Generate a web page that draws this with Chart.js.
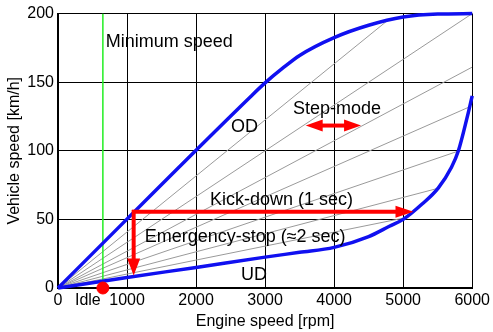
<!DOCTYPE html>
<html>
<head>
<meta charset="utf-8">
<script src="https://cdn.jsdelivr.net/npm/chart.js@4"></script>
<style>
  html, body { margin: 0; padding: 0; background: #fff; }
  #wrap { width: 493px; height: 332px; }
</style>
</head>
<body>
<div id="wrap"><canvas id="shiftChart"></canvas></div>
<script>
// Engine speed (rpm) / vehicle speed (km/h) map of a CVT

const xTicks = [0, 1000, 2000, 3000, 4000, 5000, 6000];
const yTicks = [0, 50, 100, 150, 200];

// Overdrive limit (top ratio), then rolls over to top speed
const odRpm   = [0, 2800, 3000, 3250, 3500, 4000, 4500, 5000, 5500, 6000];
const odSpeed = [0, 140, 149.5, 160, 169.5, 182.5, 191.5, 197.5, 199.7, 200];

// Underdrive limit (lowest ratio), bends up near max rpm
const udRpm   = [0, 1000, 2000, 3000, 3500, 4000, 4500, 4800, 5000, 5270, 5510, 5700, 5800, 5925, 6000];
const udSpeed = [0, 7.7, 15, 22.5, 26, 29.6, 37.5, 45, 50, 61, 73, 88, 100, 124, 140];

// Fixed step-mode ratios, each ends where it meets the envelope
const stepEndRpm   = [4750, 6000, 6000, 5960, 5810, 5530, 5010];
const stepEndSpeed = [194, 200, 161, 132, 100, 73, 51];

// Idle / minimum speed
const idleRpm = 650;
const minSpeedTop = 200;
const minSpeedBottom = 5;

// Arrows, in rpm / km/h
const kickDown = [[1086, 55.5], [5150, 55.5]];
const emergencyStop = [[1096, 55.5], [1096, 9.2]];
const stepMode = [[3588, 118.4], [4390, 118.4]];

const notes = [
    { text: 'Minimum speed', x: 692, y: 179.6 },
    { text: 'OD', x: 2505, y: 117 },
    { text: 'Step-mode', x: 3404, y: 130.7 },
    { text: 'Kick-down (1 sec)', x: 2202, y: 64.3 },
    { text: 'Emergency-stop (\u22482 sec)', x: 1255, y: 37.5 },
    { text: 'UD', x: 2650, y: 9.4 }
];

const FONT = "'Liberation Sans', Arial, sans-serif";
const BLUE = '#1010f0';
const RED = '#ff0000';

const toPoints = (xs, ys) => xs.map((x, i) => ({ x: x, y: ys[i] }));

const rayDatasets = stepEndRpm.map((rpm, i) => ({
    data: [{ x: 0, y: 0 }, { x: rpm, y: stepEndSpeed[i] }],
    borderColor: '#9a9a9a',
    borderWidth: 1,
    showLine: true,
    pointRadius: 0,
    order: 5
}));

function drawArrow(ctx, x1, y1, x2, y2, headLen, headHalf, width, both) {
    const ang = Math.atan2(y2 - y1, x2 - x1);
    const cos = Math.cos(ang), sin = Math.sin(ang);
    const head = (tx, ty, dir) => {
        const bx = tx - dir * headLen * cos, by = ty - dir * headLen * sin;
        ctx.beginPath();
        ctx.moveTo(tx, ty);
        ctx.lineTo(bx - headHalf * sin, by + headHalf * cos);
        ctx.lineTo(bx + headHalf * sin, by - headHalf * cos);
        ctx.closePath();
        ctx.fill();
    };
    const sx = both ? x1 + headLen * cos * 0.8 : x1;
    const sy = both ? y1 + headLen * sin * 0.8 : y1;
    ctx.beginPath();
    ctx.lineWidth = width;
    ctx.moveTo(sx, sy);
    ctx.lineTo(x2 - headLen * cos * 0.8, y2 - headLen * sin * 0.8);
    ctx.stroke();
    head(x2, y2, 1);
    if (both) head(x1, y1, -1);
}

const annotations = {
    id: 'annotations',
    afterDatasetsDraw(chart) {
        const { ctx, scales: { x, y } } = chart;
        const px = p => [x.getPixelForValue(p[0]), y.getPixelForValue(p[1])];
        ctx.save();
        ctx.strokeStyle = RED;
        ctx.fillStyle = RED;
        ctx.lineCap = 'butt';

        let a = px(kickDown[0]), b = px(kickDown[1]);
        drawArrow(ctx, a[0] - 1, a[1], b[0], b[1], 18, 6, 4, false);
        a = px(emergencyStop[0]); b = px(emergencyStop[1]);
        drawArrow(ctx, a[0], a[1] - 2, b[0], b[1], 17, 6.5, 4, false);
        a = px(stepMode[0]); b = px(stepMode[1]);
        drawArrow(ctx, a[0], a[1], b[0], b[1], 17, 6, 4, true);

        ctx.fillStyle = '#000';
        ctx.textBaseline = 'middle';
        ctx.textAlign = 'left';
        ctx.font = '18px ' + FONT;
        notes.forEach(n => {
            ctx.fillText(n.text, x.getPixelForValue(n.x), y.getPixelForValue(n.y));
        });

        // idle marker label sits in the tick row
        ctx.font = '16px ' + FONT;
        ctx.textAlign = 'center';
        ctx.fillText('Idle', x.getPixelForValue(idleRpm) - 15, y.bottom + 13);
        ctx.restore();
    }
};

new Chart(document.getElementById('shiftChart'), {
    type: 'scatter',
    data: {
        datasets: [
            {
                data: toPoints(odRpm, odSpeed),
                borderColor: BLUE,
                borderWidth: 3.5,
                showLine: true,
                pointRadius: 0,
                cubicInterpolationMode: 'monotone',
                clip: 4,
                order: 1
            },
            {
                data: toPoints(udRpm, udSpeed),
                borderColor: BLUE,
                borderWidth: 3.5,
                showLine: true,
                pointRadius: 0,
                cubicInterpolationMode: 'monotone',
                clip: 4,
                order: 1
            },
            {
                data: [{ x: idleRpm, y: minSpeedBottom }, { x: idleRpm, y: minSpeedTop }],
                borderColor: '#22ee22',
                borderWidth: 1.5,
                showLine: true,
                pointRadius: 0,
                order: 3
            },
            {
                data: [{ x: idleRpm, y: 0 }],
                backgroundColor: RED,
                borderColor: RED,
                pointRadius: 6,
                clip: false,
                order: 0
            },
            ...rayDatasets
        ]
    },
    options: {
        responsive: true,
        maintainAspectRatio: false,
        animation: false,
        events: [],
        layout: { padding: { top: 11, right: 19, left: 0, bottom: 0 } },
        plugins: {
            legend: { display: false },
            tooltip: { enabled: false }
        },
        scales: {
            x: {
                type: 'linear',
                min: 0,
                max: 6000,
                afterBuildTicks: s => { s.ticks = xTicks.map(v => ({ value: v })); },
                afterFit: s => { s.height = 44; },
                grid: { color: '#000', lineWidth: 1, drawTicks: false },
                border: { color: '#000', width: 2 },
                ticks: {
                    color: '#000',
                    padding: 3,
                    maxRotation: 0,
                    font: { family: FONT, size: 16 },
                    callback: v => String(v)
                },
                title: {
                    display: true,
                    text: 'Engine speed [rpm]',
                    color: '#000',
                    padding: { top: 0, bottom: 1 },
                    font: { family: FONT, size: 16, lineHeight: 1.2 }
                }
            },
            y: {
                type: 'linear',
                min: 0,
                max: 200,
                afterBuildTicks: s => { s.ticks = yTicks.map(v => ({ value: v })); },
                afterFit: s => { s.width = 58; },
                grid: { color: '#000', lineWidth: 1, drawTicks: false },
                border: { color: '#000', width: 2 },
                ticks: {
                    color: '#000',
                    padding: 4,
                    font: { family: FONT, size: 16 },
                    callback: v => String(v)
                },
                title: {
                    display: true,
                    text: 'Vehicle speed [km/h]',
                    color: '#000',
                    padding: { top: 5, bottom: 0 },
                    font: { family: FONT, size: 16, lineHeight: 1.2 }
                }
            }
        }
    },
    plugins: [annotations]
});
</script>
</body>
</html>
